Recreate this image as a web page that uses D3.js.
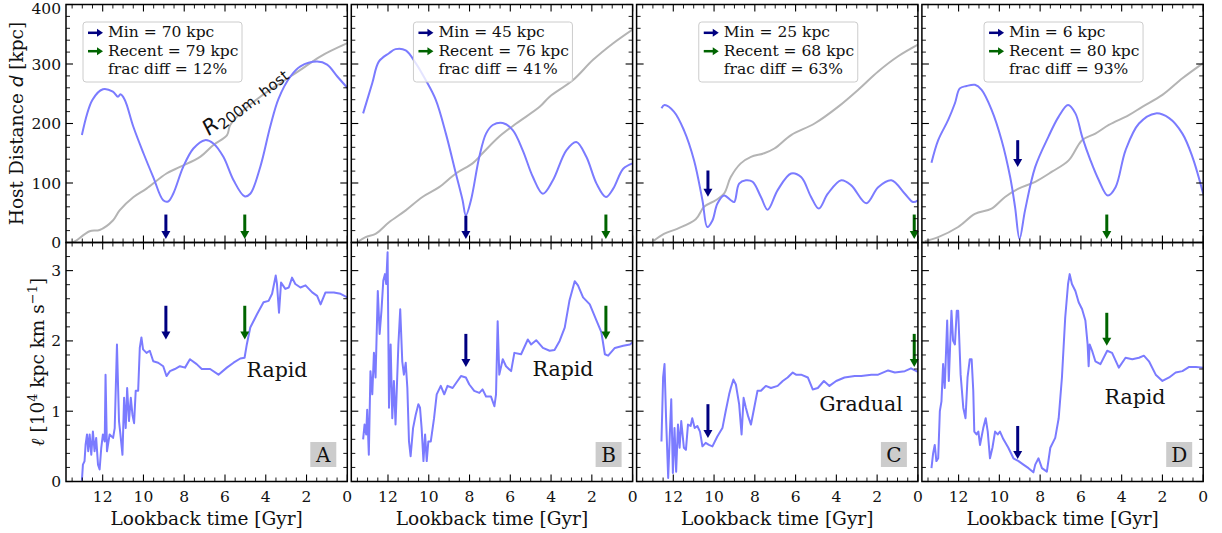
<!DOCTYPE html>
<html>
<head>
<meta charset="utf-8">
<script src="https://cdn.jsdelivr.net/npm/d3@7"></script>
<style>
  body { margin: 0; background: #fff; }
  svg { display: block; }
  text { font-family: "DejaVu Serif", serif; fill: #111; }
</style>
</head>
<body>
<div id="chart"></div>
<script>
// lookback time [Gyr], host distance [kpc]
const distA = [[13.02,180.6],[12.5,240],[11.99,257.7],[11.5,253.7],[11.25,245],[11.13,249],[10.92,240],[10.5,195],[10.0,150],[9.52,110],[9.03,71],[8.79,69],[8.54,82],[8.05,127],[7.55,158],[6.98,172],[6.57,166.5],[6.08,144],[5.58,104.6],[5.04,77.6],[4.76,82],[4.27,127],[3.78,195],[3.37,242],[2.79,279],[2.3,296],[1.48,304],[0.99,299],[0.49,279],[0,260]];
const distB = [[13.22,217],[12.77,268],[12.45,304],[11.95,318],[11.63,325],[11.13,323],[10.64,301.5],[10.15,273],[9.66,240],[9.16,183],[8.67,116],[8.34,71],[8.18,45.6],[7.93,71],[7.52,144],[7.19,183],[6.86,197.5],[6.37,201],[5.88,189],[5.39,155],[4.89,110],[4.4,82],[3.91,104.6],[3.25,155],[2.76,169],[2.27,144],[1.77,99],[1.31,76.5],[0.95,90.6],[0.46,124],[0,133]];
const distC = [[12.58,225.6],[12.43,231],[11.97,220],[11.48,189],[10.98,138],[10.57,71],[10.33,26],[10.08,37],[9.84,65],[9.51,79],[9.18,71],[9.01,68],[8.77,99],[8.44,104.6],[8.11,102],[7.7,76.5],[7.37,55],[6.88,88],[6.22,116],[5.73,110],[5.24,76.5],[4.86,57],[4.42,82],[3.76,104.6],[3.27,96],[2.53,66],[1.95,93],[1.3,104.6],[0.64,82],[0.23,68],[0,71]];
const distD = [[13.33,134],[13.0,172],[12.51,206],[12.18,234],[11.94,259],[11.61,263],[11.2,265],[10.87,256.5],[10.38,223],[9.89,172],[9.47,110],[9.23,59.6],[9.01,6],[8.74,54],[8.24,127],[7.59,178],[7.09,211.5],[6.63,231],[6.27,217],[5.94,178],[5.53,138],[5.12,104.6],[4.68,79],[4.3,93],[3.81,155],[3.15,200],[2.33,217],[1.67,209],[1.02,183],[0.53,144],[0,82]];

// host R200m [kpc]
const rvirA = [[13.46,0],[13.3,3],[12.64,19],[12.15,21],[11.5,37],[11.17,54],[10.5,76],[9.85,90.6],[8.87,116],[8.21,127],[7.22,144],[6.57,164],[5.9,180.6],[5.75,197],[5.25,217],[4.27,245],[3.28,268],[2.3,290],[1.31,313],[0,335]];
const rvirB = [[13.51,0.5],[13.1,9],[12.61,14.6],[11.95,34],[11.13,54],[10.31,76.5],[9.49,93],[8.67,116],[7.85,133],[7.36,150],[6.54,178],[5.71,200],[4.56,228],[4.07,245],[2.92,273],[1.94,307],[0.95,335],[0,358]];
const rvirC = [[12.96,3],[12.46,14.6],[11.81,23],[10.9,39],[10.49,60],[9.92,71],[9.51,82],[9.18,110],[8.69,133],[8.19,144],[7.54,150],[7.04,158],[6.22,180.6],[5.07,200],[3.92,228],[2.94,256.5],[1.95,287.5],[0.97,313],[0,332.5]];
const rvirD = [[13.66,2],[13.0,9],[12.02,26],[11.2,48],[10.38,57],[9.72,76.5],[9.06,90.6],[8.24,102],[7.42,119],[6.6,138],[5.94,172],[5.29,183],[4.63,197.5],[3.65,214],[2.99,228],[2.0,248],[1.02,276],[0,301.5]];

// specific angular momentum [1e4 kpc km/s]
const angA = [[13.02,0.01],[12.97,0.24],[12.89,0.29],[12.84,0.52],[12.77,0.67],[12.71,0.43],[12.64,0.67],[12.56,0.38],[12.48,0.71],[12.4,0.43],[12.32,0.62],[12.23,0.24],[12.15,0.17],[12.07,0.48],[11.99,0.67],[11.9,0.57],[11.86,1.52],[11.79,0.43],[11.66,0.67],[11.49,0.62],[11.41,0.76],[11.3,1.95],[11.2,0.86],[11.13,0.67],[11.03,0.38],[10.95,1.19],[10.87,0.76],[10.8,1.33],[10.71,0.86],[10.62,1.19],[10.54,0.95],[10.46,0.83],[10.38,1.29],[10.26,1.29],[10.18,1.9],[10.1,2.05],[10.02,1.88],[9.85,1.83],[9.69,1.86],[9.52,1.71],[9.28,1.69],[9.03,1.64],[8.87,1.5],[8.7,1.57],[8.46,1.6],[8.21,1.64],[7.96,1.62],[7.72,1.74],[7.39,1.67],[7.14,1.6],[6.73,1.6],[6.32,1.52],[5.91,1.62],[5.58,1.69],[5.25,1.75],[5.04,1.76],[4.93,1.95],[4.76,2.19],[4.43,2.38],[4.11,2.55],[3.86,2.57],[3.69,2.67],[3.51,2.93],[3.45,2.81],[3.35,2.4],[3.25,2.83],[3.04,2.74],[2.87,2.76],[2.71,2.9],[2.55,2.81],[2.3,2.76],[2.05,2.79],[1.72,2.69],[1.48,2.64],[1.31,2.52],[1.07,2.69],[0.66,2.69],[0.33,2.67],[0,2.62]];
const angB = [[13.22,0.6],[13.15,0.81],[13.07,0.67],[13.02,1.02],[12.94,0.38],[12.86,1.57],[12.77,1.24],[12.69,1.83],[12.61,1.48],[12.5,2.71],[12.41,2.1],[12.32,2.43],[12.23,2.86],[12.15,2.95],[12.09,2.81],[12.02,3.26],[11.95,1.05],[11.87,1.95],[11.79,0.9],[11.71,1.43],[11.63,0.81],[11.49,1.95],[11.4,2.45],[11.3,1.71],[11.22,1.52],[11.13,1.69],[11.05,1.33],[10.97,0.57],[10.89,0.36],[10.77,0.76],[10.64,0.95],[10.51,1.1],[10.43,1.05],[10.35,0.76],[10.26,0.29],[10.18,0.67],[10.1,0.29],[10.02,0.57],[9.9,0.57],[9.74,0.9],[9.61,1.24],[9.41,1.36],[9.24,1.24],[9.08,1.36],[8.83,1.33],[8.59,1.43],[8.42,1.5],[8.18,1.48],[8.01,1.38],[7.77,1.29],[7.52,1.26],[7.36,1.31],[7.19,1.21],[6.95,1.21],[6.78,1.07],[6.7,1.24],[6.62,2.28],[6.54,1.52],[6.37,1.74],[6.21,1.64],[5.96,1.57],[5.8,1.83],[5.47,1.81],[5.14,2.02],[4.98,1.95],[4.73,2.01],[4.4,1.9],[4.07,1.86],[3.83,1.87],[3.58,2.0],[3.33,2.19],[3.1,2.57],[2.84,2.85],[2.68,2.79],[2.43,2.62],[2.1,2.52],[1.77,2.29],[1.53,2.12],[1.36,1.81],[1.2,1.79],[0.87,1.9],[0.46,1.93],[0.13,1.95],[0,1.98]];
const angC = [[12.58,0.57],[12.5,1.48],[12.43,1.67],[12.35,0.86],[12.25,0.05],[12.17,0.67],[12.1,1.17],[12.02,0.12],[11.94,0.76],[11.86,0.14],[11.77,0.81],[11.69,0.48],[11.61,0.86],[11.48,0.48],[11.38,0.45],[11.28,0.81],[11.15,0.79],[11.07,0.9],[10.95,0.76],[10.82,0.79],[10.69,0.71],[10.57,0.5],[10.41,0.55],[10.25,0.52],[10.08,0.5],[9.84,0.64],[9.59,0.76],[9.43,1.0],[9.26,1.24],[9.18,1.33],[9.05,1.45],[8.93,1.38],[8.77,1.1],[8.65,0.67],[8.55,1.19],[8.44,1.05],[8.33,0.93],[8.19,0.81],[8.03,1.05],[7.87,1.29],[7.7,1.29],[7.46,1.36],[7.21,1.33],[6.88,1.36],[6.63,1.43],[6.39,1.48],[6.14,1.55],[5.98,1.52],[5.73,1.52],[5.4,1.48],[5.16,1.31],[4.91,1.33],[4.61,1.43],[4.34,1.36],[4.01,1.43],[3.6,1.48],[3.1,1.5],[2.78,1.5],[2.28,1.52],[1.95,1.52],[1.46,1.58],[1.13,1.55],[0.64,1.57],[0.34,1.61],[0,1.56]];
const angD = [[13.33,0.19],[13.25,0.4],[13.17,0.52],[13.09,0.29],[13.0,0.33],[12.92,1.0],[12.84,1.14],[12.76,1.67],[12.68,1.33],[12.56,2.29],[12.48,1.43],[12.35,2.43],[12.27,2.0],[12.18,1.95],[12.09,2.43],[12.02,2.43],[11.9,1.52],[11.77,1.05],[11.66,0.9],[11.56,1.48],[11.45,1.74],[11.36,1.74],[11.28,1.29],[11.23,0.71],[11.12,0.67],[11.03,0.71],[10.95,0.52],[10.79,0.76],[10.67,0.9],[10.57,0.71],[10.46,0.33],[10.34,0.48],[10.21,0.71],[10.08,0.67],[9.97,0.71],[9.8,0.6],[9.56,0.48],[9.31,0.33],[9.06,0.29],[8.82,0.24],[8.57,0.19],[8.33,0.13],[8.24,0.24],[8.08,0.33],[7.91,0.19],[7.67,0.14],[7.5,0.48],[7.26,0.62],[7.09,0.9],[6.93,1.48],[6.77,2.33],[6.63,2.81],[6.55,2.95],[6.44,2.81],[6.27,2.71],[6.11,2.55],[5.94,2.45],[5.78,2.29],[5.67,1.95],[5.62,1.64],[5.57,1.95],[5.45,1.86],[5.29,1.71],[5.04,1.67],[4.71,1.86],[4.47,1.83],[4.14,1.62],[3.81,1.76],[3.48,1.74],[3.15,1.76],[2.91,1.79],[2.66,1.71],[2.33,1.52],[2.0,1.43],[1.67,1.48],[1.35,1.55],[1.02,1.57],[0.69,1.63],[0.36,1.63],[0,1.62]];

const panelNames = ["A", "B", "C", "D"];
const minDist = [70, 45, 25, 6];
const recentDist = [79, 76, 68, 80];
const fracDiff = [12, 41, 63, 93];
const growthLabels = ["Rapid", "Rapid", "Gradual", "Rapid"];
// arrow [time, tail, tip] for minimum (navy) and most recent (green) pericentre
const minArrowTop = [[8.9,47,6],[8.18,45,6],[10.3,121,77],[9.1,172,127]];
const recArrowTop = [[5.03,47,6],[1.31,47,6],[0.18,47,6],[4.73,47,6]];
const minArrowBot = [[8.9,2.5,2.02],[8.18,2.1,1.63],[10.3,1.1,0.62],[9.1,0.79,0.32]];
const recArrowBot = [[5.03,2.5,2.02],[1.31,2.5,2.02],[0.18,2.1,1.63],[4.73,2.4,1.93]];

const distSeries = [distA, distB, distC, distD];
const rvirSeries = [rvirA, rvirB, rvirC, rvirD];
const angSeries = [angA, angB, angC, angD];

const W = 1222, H = 533;
const left0 = 66, step = 285.3, pw = 281.3;
const topY = 4.5, midY = 242.5, botY = 481.5;
const blue = "#7b7bff", gray = "#b4b4b4", navy = "#000080", green = "#006400";

const svg = d3.select("#chart").append("svg").attr("width", W).attr("height", H);

const yTop = d3.scaleLinear().domain([0, 400]).range([midY, topY]);
const yBot = d3.scaleLinear().domain([0, 3.4]).range([botY, midY]);

function drawArrow(g, x, yTail, yTip, color) {
    g.append("line")
        .attr("x1", x).attr("x2", x)
        .attr("y1", yTail).attr("y2", yTip - 7)
        .attr("stroke", color).attr("stroke-width", 3);
    g.append("path")
        .attr("d", `M${x - 4.5},${yTip - 8}L${x + 4.5},${yTip - 8}L${x},${yTip}Z`)
        .attr("fill", color);
}

function drawTicks(g, x, y, majorX, minorX, majorY, minorY) {
    const [x0, x1] = [x.range()[1], x.range()[0]].sort((a, b) => a - b);
    const [y0, y1] = [y.range()[1], y.range()[0]].sort((a, b) => a - b);
    const tk = g.append("g").attr("stroke", "#000");
    majorX.forEach(v => {
        tk.append("line").attr("x1", x(v)).attr("x2", x(v)).attr("y1", y1).attr("y2", y1 - 7).attr("stroke-width", 1.1);
        tk.append("line").attr("x1", x(v)).attr("x2", x(v)).attr("y1", y0).attr("y2", y0 + 7).attr("stroke-width", 1.1);
    });
    minorX.forEach(v => {
        tk.append("line").attr("x1", x(v)).attr("x2", x(v)).attr("y1", y1).attr("y2", y1 - 4).attr("stroke-width", 0.9);
        tk.append("line").attr("x1", x(v)).attr("x2", x(v)).attr("y1", y0).attr("y2", y0 + 4).attr("stroke-width", 0.9);
    });
    majorY.forEach(v => {
        tk.append("line").attr("x1", x0).attr("x2", x0 + 7).attr("y1", y(v)).attr("y2", y(v)).attr("stroke-width", 1.1);
        tk.append("line").attr("x1", x1).attr("x2", x1 - 7).attr("y1", y(v)).attr("y2", y(v)).attr("stroke-width", 1.1);
    });
    minorY.forEach(v => {
        tk.append("line").attr("x1", x0).attr("x2", x0 + 4).attr("y1", y(v)).attr("y2", y(v)).attr("stroke-width", 0.9);
        tk.append("line").attr("x1", x1).attr("x2", x1 - 4).attr("y1", y(v)).attr("y2", y(v)).attr("stroke-width", 0.9);
    });
}

const majorT = d3.range(0, 13, 2);
const minorT = d3.range(0, 13.8, 0.5).filter(v => v % 2 !== 0);
const majorD = d3.range(0, 401, 100);
const minorD = d3.range(0, 400, 20).filter(v => v % 100 !== 0);
const majorL = [0, 1, 2, 3];
const minorL = d3.range(0, 3.4, 0.2).map(v => +v.toFixed(1)).filter(v => Math.abs(v - Math.round(v)) > 0.01);

const defs = svg.append("defs");

panelNames.forEach((name, i) => {
    const px = left0 + i * step;
    const x = d3.scaleLinear().domain([13.8, 0]).range([px, px + pw]);

    defs.append("clipPath").attr("id", "clipT" + i)
        .append("rect").attr("x", px).attr("y", topY).attr("width", pw).attr("height", midY - topY);
    defs.append("clipPath").attr("id", "clipB" + i)
        .append("rect").attr("x", px).attr("y", midY).attr("width", pw).attr("height", botY - midY);

    // ---- top: host distance
    const gt = svg.append("g");
    const smooth = d3.line().x(d => x(d[0])).y(d => yTop(d[1])).curve(d3.curveCatmullRom.alpha(0.5));
    gt.append("path").datum(rvirSeries[i]).attr("d", smooth)
        .attr("fill", "none").attr("stroke", gray).attr("stroke-width", 2)
        .attr("clip-path", `url(#clipT${i})`);
    gt.append("path").datum(distSeries[i]).attr("d", smooth)
        .attr("fill", "none").attr("stroke", blue).attr("stroke-width", 2)
        .attr("clip-path", `url(#clipT${i})`);

    drawArrow(gt, x(minArrowTop[i][0]), yTop(minArrowTop[i][1]), yTop(minArrowTop[i][2]), navy);
    drawArrow(gt, x(recArrowTop[i][0]), yTop(recArrowTop[i][1]), yTop(recArrowTop[i][2]), green);

    // legend box
    const lw = 159, lh = 60;
    const lx = i === 0 ? px + 17 : px + pw / 2 - lw / 2 + 1;
    const ly = 22;
    const lg = gt.append("g");
    lg.append("rect").attr("x", lx).attr("y", ly).attr("width", lw).attr("height", lh)
        .attr("rx", 3).attr("fill", "#fff").attr("fill-opacity", 0.8)
        .attr("stroke", "#cccccc").attr("stroke-width", 1);
    const legRows = [
        { c: navy, t: `Min = ${minDist[i]} kpc` },
        { c: green, t: `Recent = ${recentDist[i]} kpc` },
        { c: null, t: `frac diff = ${fracDiff[i]}%` }
    ];
    legRows.forEach((r, k) => {
        const base = ly + 15.3 + k * 18.4;
        if (r.c) {
            const ay = base - 4.5;
            lg.append("line").attr("x1", lx + 5).attr("x2", lx + 15).attr("y1", ay).attr("y2", ay)
                .attr("stroke", r.c).attr("stroke-width", 2.5);
            lg.append("path").attr("d", `M${lx + 14},${ay - 4}L${lx + 20},${ay}L${lx + 14},${ay + 4}Z`).attr("fill", r.c);
        }
        lg.append("text").attr("x", lx + 25).attr("y", base)
            .attr("font-size", 15.5).text(r.t);
    });

    if (i === 0) {
        const lab = gt.append("text")
            .attr("transform", `translate(${209},${136}) rotate(-38)`)
            .style("font-family", "'DejaVu Sans', sans-serif").attr("font-size", 21);
        lab.append("tspan").style("font-style", "italic").text("R");
        lab.append("tspan").attr("font-size", 15).attr("dy", 4).text("200m, host");
    }

    drawTicks(gt, x, yTop, majorT, minorT, majorD, minorD);

    // ---- bottom: angular momentum
    const gb = svg.append("g");
    const jag = d3.line().x(d => x(d[0])).y(d => yBot(d[1]));
    gb.append("path").datum(angSeries[i]).attr("d", jag)
        .attr("fill", "none").attr("stroke", blue).attr("stroke-width", 2)
        .attr("stroke-linejoin", "round")
        .attr("clip-path", `url(#clipB${i})`);

    drawArrow(gb, x(minArrowBot[i][0]), yBot(minArrowBot[i][1]), yBot(minArrowBot[i][2]), navy);
    drawArrow(gb, x(recArrowBot[i][0]), yBot(recArrowBot[i][1]), yBot(recArrowBot[i][2]), green);

    const annPos = [[277, 376.5], [563, 376], [861, 411], [1135, 404]];
    gb.append("text").attr("x", annPos[i][0]).attr("y", annPos[i][1])
        .attr("text-anchor", "middle").attr("font-size", 20.5).text(growthLabels[i]);

    const bx = px + pw - 37, by = 442;
    gb.append("rect").attr("x", bx).attr("y", by).attr("width", 26).attr("height", 25).attr("fill", "#cccccc");
    gb.append("text").attr("x", bx + 13).attr("y", by + 20).attr("text-anchor", "middle")
        .attr("font-size", 20).text(name);

    drawTicks(gb, x, yBot, majorT, minorT, majorL, minorL);

    // x tick labels (bottom row only)
    majorT.forEach(v => {
        svg.append("text").attr("x", x(v)).attr("y", botY + 20)
            .attr("text-anchor", "middle").attr("font-size", 15.5).text(v);
    });
    svg.append("text").attr("x", px + pw / 2).attr("y", botY + 43)
        .attr("text-anchor", "middle").attr("font-size", 18.5).text("Lookback time [Gyr]");

    // frames
    svg.append("rect").attr("x", px).attr("y", topY).attr("width", pw).attr("height", midY - topY)
        .attr("fill", "none").attr("stroke", "#000").attr("stroke-width", 1.5);
    svg.append("rect").attr("x", px).attr("y", midY).attr("width", pw).attr("height", botY - midY)
        .attr("fill", "none").attr("stroke", "#000").attr("stroke-width", 1.5);
});

// y tick labels (first column)
majorD.forEach(v => {
    svg.append("text").attr("x", left0 - 5).attr("y", Math.max(yTop(v) + 5.5, 14))
        .attr("text-anchor", "end").attr("font-size", 15.5).text(v);
});
majorL.forEach(v => {
    svg.append("text").attr("x", left0 - 5).attr("y", yBot(v) + 5.5)
        .attr("text-anchor", "end").attr("font-size", 15.5).text(v);
});

// y axis titles
const yl1 = svg.append("text")
    .attr("transform", `translate(23,${(topY + midY) / 2}) rotate(-90)`)
    .attr("text-anchor", "middle").attr("font-size", 18.5);
yl1.append("tspan").text("Host Distance ");
yl1.append("tspan").style("font-style", "italic").style("font-family", "'DejaVu Sans', sans-serif").text("d");
yl1.append("tspan").text(" [kpc]");

const yl2 = svg.append("text")
    .attr("transform", `translate(44,${(midY + botY) / 2}) rotate(-90)`)
    .attr("text-anchor", "middle").attr("font-size", 18.5);
yl2.append("tspan").style("font-style", "italic").text("ℓ");
yl2.append("tspan").text(" [10");
yl2.append("tspan").attr("font-size", 13).attr("dy", -7).text("4");
yl2.append("tspan").attr("dy", 7).text(" kpc km s");
yl2.append("tspan").attr("font-size", 13).attr("dy", -7).text("−1");
yl2.append("tspan").attr("dy", 7).text("]");
</script>
</body>
</html>
